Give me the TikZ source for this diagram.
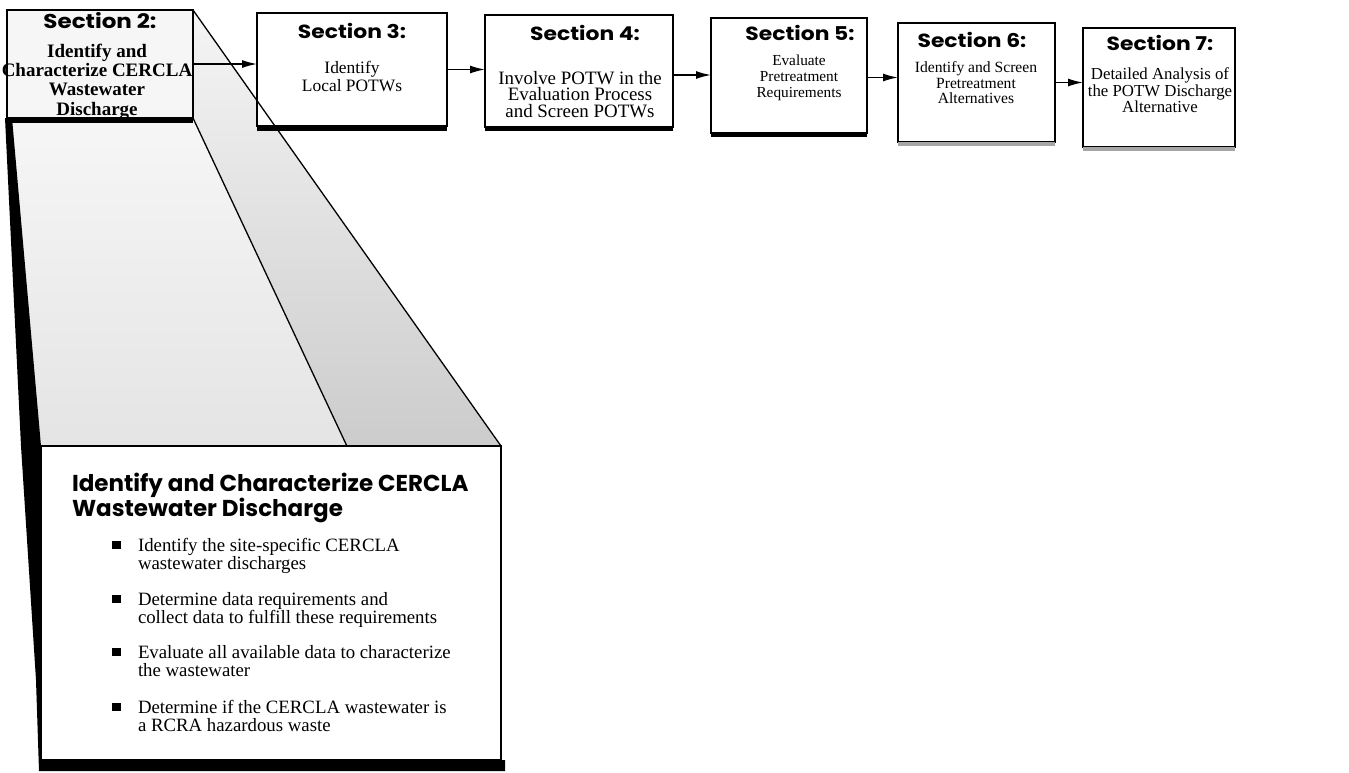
\documentclass[tikz,border=0pt]{standalone}
\usepackage{fontspec}
\setmainfont{Liberation Serif}
\newfontfamily\geofont[FakeStretch=1.15]{Poppins}
\newfontfamily\geohead{Poppins}
\usetikzlibrary{arrows.meta,calc}
\pgfdeclarelayer{background}
\pgfsetlayers{background,main}

\begin{document}
\begin{tikzpicture}[x=1pt,y=-1pt,
  every node/.style={inner sep=0pt, outer sep=0pt},
  secbox/.style={draw=black, line width=1.6pt, fill=white, anchor=north west},
  sectitle/.style={font=\geofont\bfseries\fontsize{19}{19}\selectfont, anchor=base},
  body/.style={align=center, anchor=north},
  arr/.style={line width=1.4pt, -{Latex[length=15pt,width=8pt]}},
  edge/.style={line width=1.3pt},
  sq/.style={fill=black, minimum width=9pt, minimum height=8pt},
  item/.style={anchor=north west, align=left, font=\fontsize{18.8}{18.5}\selectfont},
]
\useasboundingbox (0,0) rectangle (1349,772);

% ---- section boxes -------------------------------------------------
\node[secbox, fill=gray!7, minimum width=186pt, minimum height=108pt] (b2) at (7,10) {};
\node[secbox, minimum width=190pt, minimum height=113pt] (b3) at (257,13) {};
\node[secbox, minimum width=188pt, minimum height=112pt] (b4) at (485,15) {};
\node[secbox, minimum width=156pt, minimum height=115pt] (b5) at (711,18) {};
\node[secbox, minimum width=157pt, minimum height=119pt] (b6) at (898,23) {};
\node[secbox, minimum width=152pt, minimum height=119pt] (b7) at (1083,28) {};

% heavy bottom edges
\fill (b2.south west) rectangle ([yshift=-5pt]b2.south east);
\fill (b3.south west) rectangle ([yshift=-5pt]b3.south east);
\fill (b4.south west) rectangle ([yshift=-4pt]b4.south east);
\fill (b5.south west) rectangle ([yshift=-4pt]b5.south east);
\fill[gray!70] (b6.south west) rectangle ([yshift=-4pt]b6.south east);
\fill[gray!70] (b7.south west) rectangle ([yshift=-4pt]b7.south east);

% ---- detail box ----------------------------------------------------
\node[secbox, line width=1.4pt, minimum width=460pt, minimum height=314pt] (det) at (41,446) {};
\coordinate (mid) at ($(det.north west)!0.665!(det.north east)$);

% stippled faces of the expanding prism
\begin{pgfonlayer}{background}
  \shade[top color=gray!7, bottom color=gray!21] (b2.south west) -- (b2.south east) -- (mid) -- (det.north west) -- cycle;
  \shade[top color=gray!8, bottom color=gray!40] (b2.north east) -- (det.north east) -- (mid) -- (b2.south east) -- cycle;
\end{pgfonlayer}
\draw[edge] (b2.south east) -- (mid);
\draw[edge] (b2.north east) -- (det.north east);

% dark shadow along the left side and the bottom
\fill (5,118) -- (12,118) -- (det.north west) -- (det.south west) -- (det.south east)
      -- (505,760) -- (505,771) -- (39,771) -- (36,680) -- (21,446) -- cycle;

% ---- box texts -----------------------------------------------------
\node[sectitle, font=\geofont\bfseries\fontsize{20}{20}\selectfont] (t2) at (100,28) {Section 2:};
\node[body, font=\bfseries\fontsize{19}{19.3}\selectfont] (d2) at (97,44) {Identify and\\Characterize CERCLA\\Wastewater\\Discharge};

\node[sectitle] (t3) at (352,38) {Section 3:};
\node[body, font=\fontsize{17.4}{18}\selectfont] (d3) at (352,61) {Identify\\Local POTWs};

\node[sectitle] (t4) at (585,40) {Section 4:};
\node[body, font=\fontsize{18.9}{16.8}\selectfont] (d4) at (580,71) {Involve POTW in the\\Evaluation Process\\and Screen POTWs};

\node[sectitle] (t5) at (800,40) {Section 5:};
\node[body, font=\fontsize{15.3}{16}\selectfont] (d5) at (799,54.5) {Evaluate\\Pretreatment\\Requirements};

\node[sectitle] (t6) at (972,47) {Section 6:};
\node[body, font=\fontsize{15.6}{15.5}\selectfont] (d6) at (976,62) {Identify and Screen\\Pretreatment\\Alternatives};

\node[sectitle] (t7) at (1160,50) {Section 7:};
\node[body, font=\fontsize{16.8}{15}\selectfont] (d7) at (1160,68) {Detailed Analysis of\\the POTW Discharge\\Alternative};

% ---- flow arrows ---------------------------------------------------
\draw[arr] (b2.east) -- (b2.east -| b3.west);
\draw[arr] (b3.east) -- (b3.east -| b4.west);
\draw[arr] ([yshift=-4pt]b4.east) -- ([yshift=-4pt]b4.east -| b5.west);
\draw[arr] ([yshift=-2pt]b5.east) -- ([yshift=-2pt]b5.east -| b6.west);
\draw[arr] (b6.east) -- (b6.east -| b7.west);

% ---- detail text ---------------------------------------------------
\node[anchor=north west, align=left, font=\geohead\bfseries\fontsize{23}{22}\selectfont] (dt) at (72,473)
  {Identify and Characterize CERCLA\\Wastewater Discharge};

\node[sq] (q1) at (116,545) {};
\node[item] (i1) at (138,538) {Identify the site-specific CERCLA\\wastewater discharges};
\node[sq] (q2) at (116,599) {};
\node[item] (i2) at (138,592) {Determine data requirements and\\collect data to fulfill these requirements};
\node[sq] (q3) at (116,652) {};
\node[item] (i3) at (138,645) {Evaluate all available data to characterize\\the wastewater};
\node[sq] (q4) at (116,707) {};
\node[item] (i4) at (138,700) {Determine if the CERCLA wastewater is\\a RCRA hazardous waste};
\end{tikzpicture}
\end{document}
